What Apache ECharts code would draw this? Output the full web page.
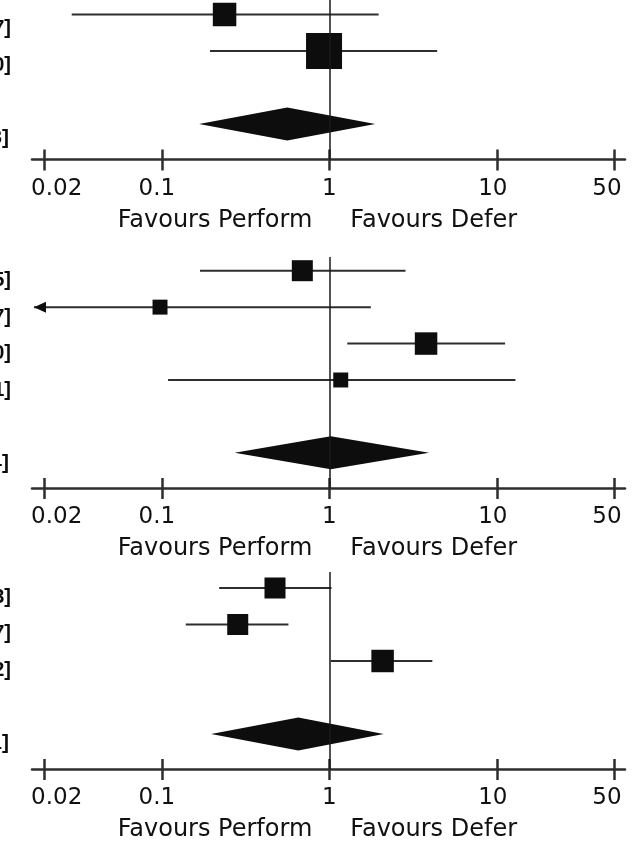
<!DOCTYPE html>
<html><head><meta charset="utf-8">
<script src="https://cdn.jsdelivr.net/npm/echarts@6/dist/echarts.min.js"></script>
<style>html,body{margin:0;padding:0;background:#fff;overflow:hidden}#c{width:636px;height:843px}</style>
</head><body><div id="c"></div>
<script>
// ---------------- data ----------------
const tickValues = [0.02, 0.1, 1, 10, 50];
const tickLabels = ['0.02', '0.1', '1', '10', '50'];
const sideLabels = ['Favours Perform', 'Favours Defer'];

// panel 1
const p1Est = [0.237, 0.93];
const p1Lo = [0.029, 0.194];
const p1Hi = [1.97, 4.40];
const p1Weight = [34.5, 81];
const p1Row = [0, 1];
const p1Pooled = [0.561, 0.167, 1.88];   // estimate, lower, upper
const p1PooledRow = 3;

// panel 2
const p2Est = [0.69, 0.0976, 3.78, 1.17];
const p2Lo = [0.169, 0.01, 1.28, 0.109];
const p2Hi = [2.85, 1.77, 11.20, 12.91];
const p2Weight = [27.6, 14, 31.6, 14];
const p2Row = [0, 1, 2, 3];
const p2Pooled = [1.02, 0.272, 3.94];
const p2PooledRow = 5;

// panel 3
const p3Est = [0.474, 0.284, 2.08];
const p3Lo = [0.22, 0.139, 1.02];
const p3Hi = [1.03, 0.57, 4.12];
const p3Weight = [27.6, 27.6, 31.6];
const p3Row = [0, 1, 2];
const p3Pooled = [0.653, 0.197, 2.11];
const p3PooledRow = 4;

// ---------------- layout ----------------
const XMIN = 0.0168, XMAX = 58.2;
const GRID_LEFT = 32, GRID_RIGHT = 11;
const panels = [
  {est: p1Est, lo: p1Lo, hi: p1Hi, w: p1Weight, row: p1Row, pooled: p1Pooled, pooledRow: p1PooledRow,
   top: 0, axisY: 159.5, row0: 14.5, step: 36.5, labelOff: 14},
  {est: p2Est, lo: p2Lo, hi: p2Hi, w: p2Weight, row: p2Row, pooled: p2Pooled, pooledRow: p2PooledRow,
   top: 257, axisY: 488, row0: 270.7, step: 36.43, labelOff: 10},
  {est: p3Est, lo: p3Lo, hi: p3Hi, w: p3Weight, row: p3Row, pooled: p3Pooled, pooledRow: p3PooledRow,
   top: 572, axisY: 769, row0: 588, step: 36.5, labelOff: 9}
];

const INK = '#0d0d0d';
const LINE = '#2e2e2e';
const TEXT = '#111';
const FONT_FAMILY = '"DejaVu Sans", sans-serif';
const labelShift = [12, -5, 0, -4, -7];

function fmt(v) { return v.toFixed(2); }

const grids = [], xAxes = [], yAxes = [], series = [];

panels.forEach((P, i) => {
  grids.push({left: GRID_LEFT, right: GRID_RIGHT, top: P.top, height: P.axisY - P.top, containLabel: false});
  const rich = {};
  labelShift.forEach((s, k) => {
    rich['r' + k] = {
      fontSize: 23, fontFamily: FONT_FAMILY, color: TEXT,
      padding: s >= 0 ? [0, 0, 0, 2 * s] : [0, -2 * s, 0, 0]
    };
  });
  xAxes.push({
    type: 'log', logBase: 10, gridIndex: i, min: XMIN, max: XMAX, position: 'bottom',
    axisLine: {show: true, onZero: false, lineStyle: {color: LINE, width: 2.5}},
    axisTick: {show: true, customValues: tickValues, length: 11, lineStyle: {color: LINE, width: 2.5}},
    axisLabel: {
      show: true, customValues: tickValues, margin: 18,
      formatter: (v) => {
        let k = tickValues.findIndex(t => Math.abs(Math.log10(t) - Math.log10(v)) < 1e-6);
        if (k < 0) return '';
        return '{r' + k + '|' + tickLabels[k] + '}';
      },
      rich: rich
    },
    splitLine: {show: false}, minorTick: {show: false}
  });
  xAxes.push({
    type: 'log', logBase: 10, gridIndex: i, min: XMIN, max: XMAX, position: 'bottom',
    axisLine: {show: false, onZero: false},
    axisTick: {show: true, inside: true, customValues: tickValues, length: 10, lineStyle: {color: LINE, width: 2.5}},
    axisLabel: {show: false}, splitLine: {show: false}
  });
  const yMin = (P.top - P.row0) / P.step;
  const yMax = (P.axisY - P.row0) / P.step;
  yAxes.push({type: 'value', gridIndex: i, inverse: true, min: yMin, max: yMax, show: false});

  const studyData = P.est.map((e, k) => [e, P.row[k], P.lo[k], P.hi[k], P.w[k]]);
  series.push({
    type: 'custom', xAxisIndex: 2 * i, yAxisIndex: i, clip: false,
    data: studyData,
    renderItem: (params, api) => {
      const k = params.dataIndex;
      const est = api.value(0), row = api.value(1), lo = api.value(2), hi = api.value(3), w = api.value(4);
      const c = api.coord([est, row]);
      const xMinPx = api.coord([XMIN, row])[0];
      let loPx = api.coord([lo, row])[0];
      const hiPx = api.coord([hi, row])[0];
      const children = [];
      const arrow = lo < XMIN;
      if (arrow) loPx = xMinPx + 2;
      children.push({type: 'line', shape: {x1: loPx, y1: c[1], x2: hiPx, y2: c[1]},
        style: {stroke: LINE, lineWidth: 2}});
      if (arrow) {
        children.push({type: 'polygon', shape: {points: [[loPx, c[1]], [loPx + 12, c[1] - 5.5], [loPx + 12, c[1] + 5.5]]},
          style: {fill: INK}});
      }
      const s = 4 * Math.sqrt(w);
      children.push({type: 'rect', shape: {x: c[0] - s / 2, y: c[1] - s / 2, width: s, height: s},
        style: {fill: INK}});
      const txt = '[' + fmt(P.lo[k]) + ', ' + fmt(P.hi[k]) + ']';
      children.push({type: 'text', x: 11, y: c[1] + P.labelOff,
        style: {text: txt, font: 'bold 20px "Liberation Sans", Arial, sans-serif', fill: INK,
          align: 'right', verticalAlign: 'middle', textAlign: 'right', textVerticalAlign: 'middle'}});
      return {type: 'group', children: children};
    },
    markLine: {
      silent: true, symbol: ['none', 'none'], label: {show: false},
      lineStyle: {color: '#1a1a1a', width: 1.5, type: 'solid'},
      emphasis: {disabled: true},
      data: [{xAxis: 1}]
    },
    z: 3
  });

  series.push({
    type: 'custom', xAxisIndex: 2 * i, yAxisIndex: i, clip: false,
    data: [[P.pooled[0], P.pooledRow, P.pooled[1], P.pooled[2], yMax]],
    renderItem: (params, api) => {
      const est = api.value(0), row = api.value(1), lo = api.value(2), hi = api.value(3), bottom = api.value(4);
      const c = api.coord([est, row]);
      const l = api.coord([lo, row]);
      const r = api.coord([hi, row]);
      const h = 16.5;
      const one = api.coord([1, bottom]);
      const ty = one[1] + 61;
      const txt = '[' + fmt(lo) + ', ' + fmt(hi) + ']';
      return {type: 'group', children: [
        {type: 'polygon', shape: {points: [[l[0], c[1]], [c[0], c[1] - h], [r[0], c[1]], [c[0], c[1] + h]]},
          style: {fill: INK}},
        {type: 'text', x: 9, y: c[1] + P.labelOff,
          style: {text: txt, font: 'bold 21px "Liberation Sans", Arial, sans-serif', fill: INK,
            align: 'right', verticalAlign: 'middle', textAlign: 'right', textVerticalAlign: 'middle'}},
        {type: 'text', x: one[0] - 17, y: ty,
          style: {text: sideLabels[0], font: '24px ' + FONT_FAMILY, fill: TEXT,
            align: 'right', verticalAlign: 'middle', textAlign: 'right', textVerticalAlign: 'middle'}},
        {type: 'text', x: one[0] + 21, y: ty,
          style: {text: sideLabels[1], font: '24px ' + FONT_FAMILY, fill: TEXT,
            align: 'left', verticalAlign: 'middle', textAlign: 'left', textVerticalAlign: 'middle'}}
      ]};
    },
    z: 4
  });
});

const chart = echarts.init(document.getElementById('c'), null, {renderer: 'canvas'});
chart.setOption({
  animation: false,
  backgroundColor: '#fff',
  grid: grids, xAxis: xAxes, yAxis: yAxes, series: series
});
</script>
</body></html>
